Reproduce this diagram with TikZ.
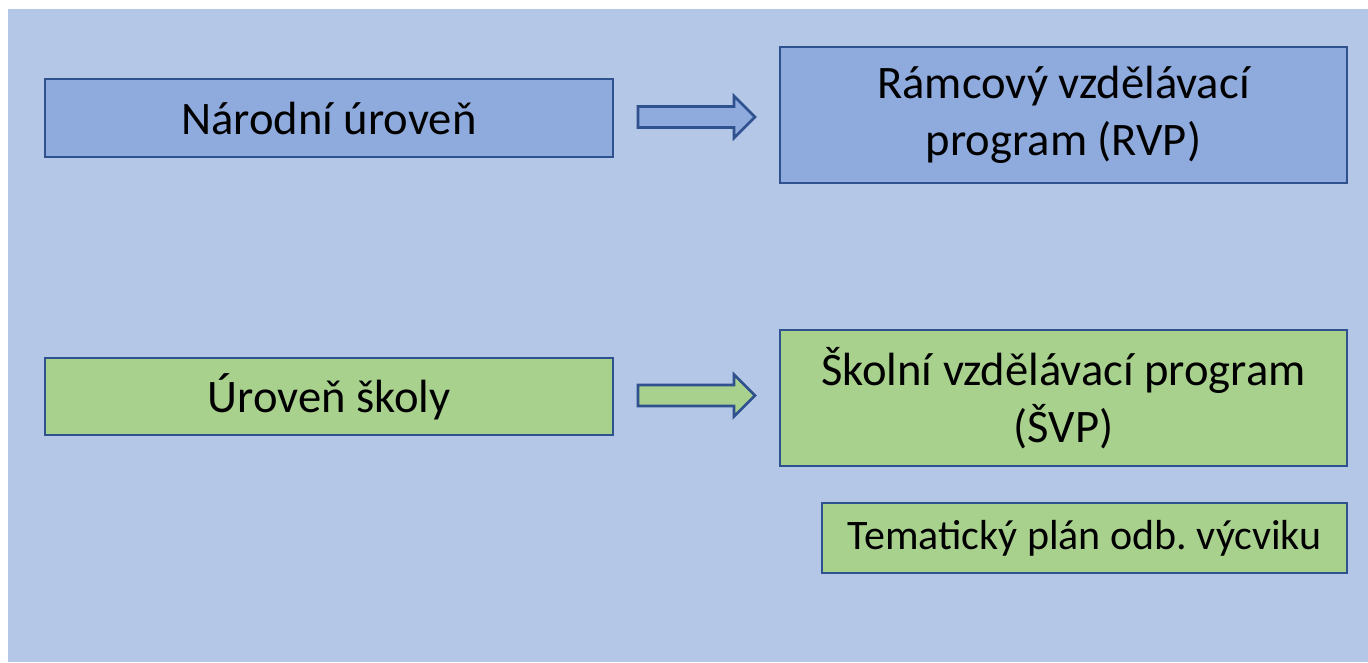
\documentclass[tikz,border=0pt]{standalone}
\usepackage{fontspec}
\setmainfont{Carlito}
\usepackage{tikz}
\usetikzlibrary{calc}
\definecolor{bgblue}{HTML}{B4C7E7}
\definecolor{boxblue}{HTML}{8FAADC}
\definecolor{boxgreen}{HTML}{A9D18E}
\definecolor{edgeblue}{HTML}{2F528F}
\frenchspacing

\begin{document}
\begin{tikzpicture}[x=1pt,y=-1pt,
        level/.style={draw=edgeblue, line width=2pt, inner sep=0pt, align=center,
            font=\fontsize{46.6}{57}\selectfont},
        plan/.style={level, font=\fontsize{42}{51}\selectfont}]
        \useasboundingbox (0,0) rectangle (1368,662);
        \fill[bgblue] (8,9) rectangle (1368,662);
        % levels on the left, documents on the right
        \node[level, fill=boxblue, minimum width=568, minimum height=78] (nat) at (329,118) {Národní úroveň};
        \node[level, fill=boxblue, minimum width=567, minimum height=136] (rvp) at (1063.5,115) {Rámcový vzdělávací\\program (RVP)};
        \node[level, fill=boxgreen, minimum width=568, minimum height=77] (sch) at (329,396.5) {Úroveň školy};
        \node[level, fill=boxgreen, minimum width=567, minimum height=136] (svp) at (1063.5,398) {Školní vzdělávací program\\(ŠVP)};
        \node[plan, fill=boxgreen, minimum width=525, minimum height=70] (tpl) at (1084.5,538) {Tematický plán odb. výcviku};
        % block arrows
        \foreach \lvl/\fil in {nat/boxblue, sch/boxgreen}
        \draw[draw=edgeblue, line width=2.6pt, fill=\fil, line join=miter]
            ($(\lvl.east)+(24,-11.5)$) -- ++(96,0) -- ++(0,-10.5) -- ++(21,21)
            -- ++(-21,21) -- ++(0,-10.5) -- ++(-96,0) -- cycle;
    \end{tikzpicture}
\end{document}
